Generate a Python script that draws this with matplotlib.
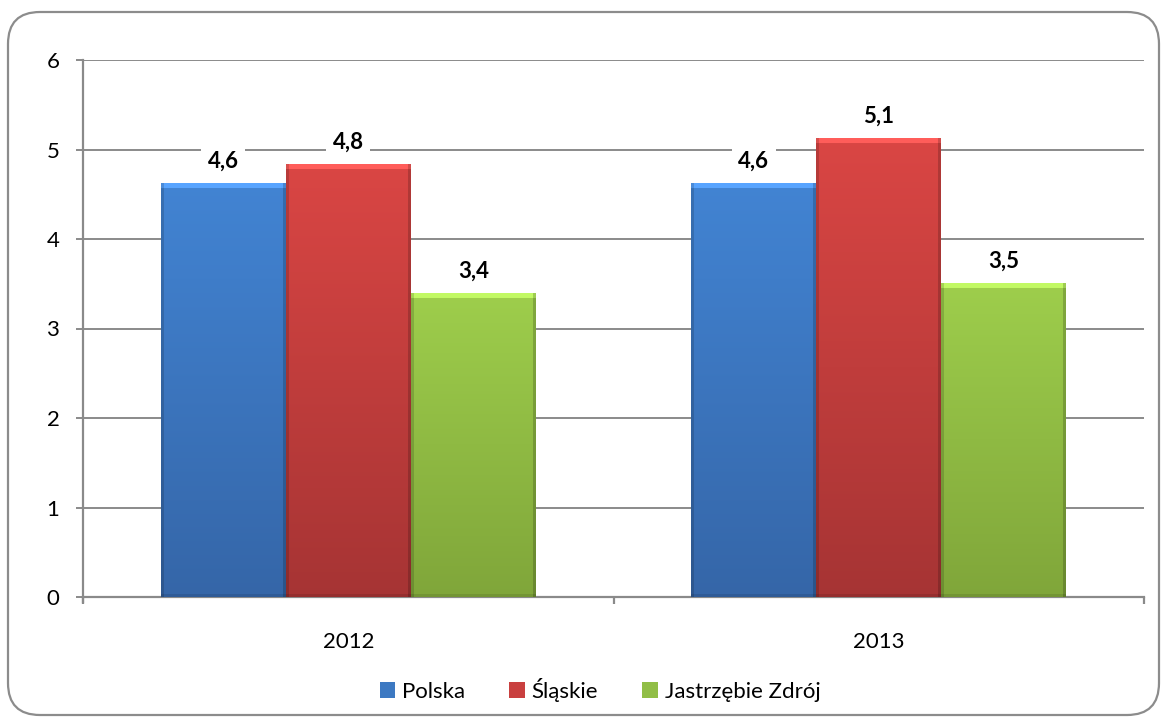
import numpy as np
import matplotlib
matplotlib.use("Agg")
import matplotlib.pyplot as plt
from matplotlib.patches import FancyBboxPatch, Patch

plt.rcParams["font.family"] = ["Lato", "DejaVu Sans"]

# data
years = ["2012", "2013"]
series = ["Polska", "Śląskie", "Jastrzębie Zdrój"]
polska = [4.63, 4.63]
slaskie = [4.84, 5.13]
jastrzebie = [3.40, 3.51]

# (top colour, bottom colour) for the gradient fill of each series
colors = [((66, 132, 211), (53, 102, 168)),
          ((218, 70, 68), (166, 52, 52)),
          ((158, 206, 76), (128, 166, 58))]
grid_col = "#8a8a8a"

W, H, DPI = 1167, 722, 100
fig = plt.figure(figsize=(W / DPI, H / DPI), dpi=DPI)
fig.patch.set_facecolor("white")

# rounded outer frame (Excel chart area)
frame = FancyBboxPatch((8, 7), W - 16, H - 19,
                       boxstyle="round,pad=0,rounding_size=32",
                       transform=None, facecolor="none",
                       edgecolor="#8c8c8c", linewidth=1.6, zorder=0)
fig.patches.append(frame)

ax = fig.add_axes([83 / W, 125 / H, 1061 / W, 537 / H])
ax.set_xlim(-0.5, 1.5)
ax.set_ylim(0, 6)
px_per_unit = 537 / 6

x = np.arange(len(years))
bw = 0.2356
offsets = [-bw, 0, bw]


def grad_image(top, bot, h_units):
    rows = max(int(h_units * px_per_unit), 10)
    cols = 125
    t = np.linspace(0, 1, rows)[:, None]
    top = np.array(top) / 255.0
    bot = np.array(bot) / 255.0
    img = top[None, None, :] * (1 - t[..., None]) + bot[None, None, :] * t[..., None]
    img = np.repeat(img, cols, axis=1)
    # bevel: lighter top band, darker side edges
    img[:6] = np.clip(img[:6] * 1.15 + 0.05, 0, 1)
    img[:, :3] *= 0.85
    img[:, -3:] *= 0.82
    img[-3:] *= 0.9
    return img


for vals, off, (ctop, cbot) in zip([polska, slaskie, jastrzebie], offsets, colors):
    bars = ax.bar(x + off, vals, width=bw, color="none", edgecolor="none", zorder=3)
    for rect, v in zip(bars, vals):
        x0 = rect.get_x()
        im = ax.imshow(grad_image(ctop, cbot, v), extent=(x0, x0 + bw, 0, v),
                       aspect="auto", zorder=3, interpolation="bilinear")
        im.set_clip_path(rect)
        ax.annotate(f"{v:.1f}".replace(".", ","), (x0 + bw / 2, v),
                    xytext=(0, 8), textcoords="offset points",
                    ha="center", va="bottom", fontsize=16, fontweight="bold",
                    bbox=dict(boxstyle="square,pad=0.3", fc="white", ec="none"),
                    zorder=4)

ax.set_xlim(-0.5, 1.5)
ax.set_ylim(0, 6)
ax.set_aspect("auto")

# axes styling
ax.set_yticks(range(7))
ax.yaxis.grid(True, color=grid_col, linewidth=1.4)
ax.set_axisbelow(True)
for s in ["top", "right"]:
    ax.spines[s].set_visible(False)
for s in ["left", "bottom"]:
    ax.spines[s].set_color(grid_col)
    ax.spines[s].set_linewidth(1.6)
ax.spines["left"].set_bounds(-0.06, 6)
ax.tick_params(axis="y", direction="out", length=5, width=1.4, color=grid_col,
               labelsize=16, pad=12)

ax.set_xticks([-0.5, 0.5, 1.5])
ax.set_xticklabels([])
ax.set_xticks(x, minor=True)
ax.set_xticklabels(years, minor=True)
ax.tick_params(axis="x", which="major", direction="out", length=5, width=1.6,
               color=grid_col)
ax.tick_params(axis="x", which="minor", length=0, labelsize=16, pad=25)

handles = [Patch(facecolor=tuple(np.array(c[0]) / 255 * 0.92), edgecolor="none")
           for c in colors]
fig.legend(handles, series, loc="center", ncol=3, frameon=False, fontsize=16,
           bbox_to_anchor=(600 / W, 1 - 690 / H), handlelength=0.7,
           handleheight=0.7, handletextpad=0.3, columnspacing=2.0)

fig.savefig("out.png", dpi=DPI, facecolor="white")
